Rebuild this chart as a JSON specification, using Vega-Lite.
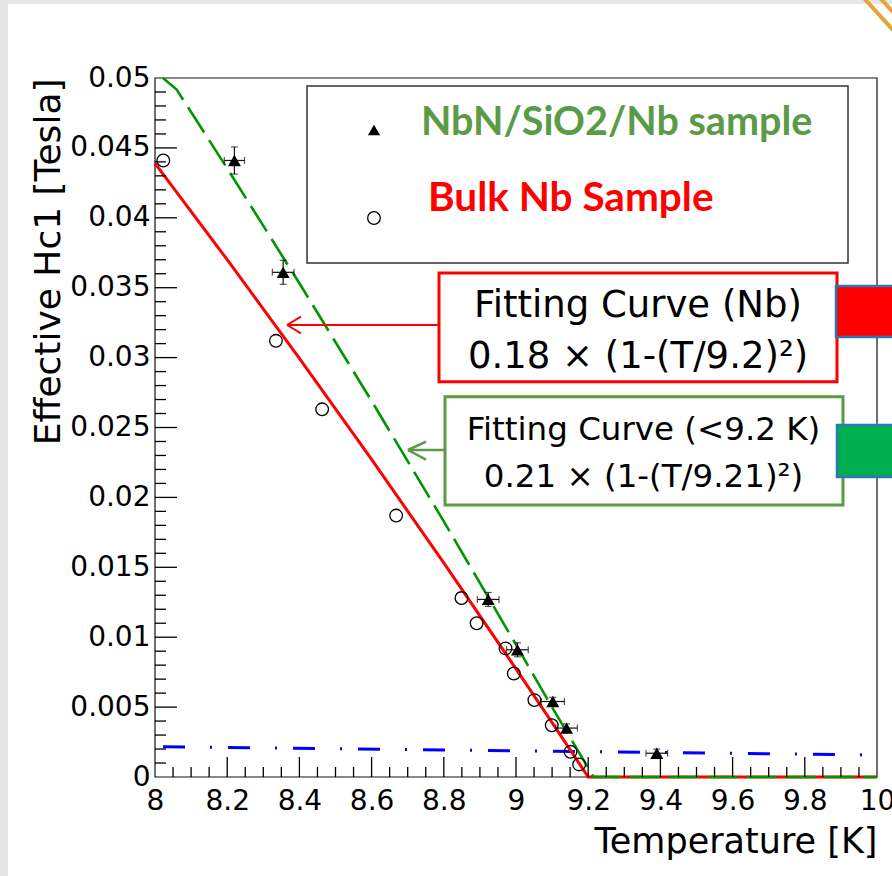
{
  "$schema": "https://vega.github.io/schema/vega-lite/v6.json",
  "width": 722,
  "height": 699,
  "autosize": {"type": "none"},
  "padding": {"left": 155, "top": 78, "right": 15, "bottom": 99},
  "background": "#e6e6e6",
  "config": {"view": {"stroke": null}, "axis": {"grid": false}},
  "resolve": {"axis": {"x": "independent", "y": "independent"}},
  "datasets": {
    "nbn": [
      {"T": 8.22, "V": 0.0441, "Tlo": 8.192, "Thi": 8.248, "Vlo": 0.04313, "Vhi": 0.04507},
      {"T": 8.355, "V": 0.0361, "Tlo": 8.325, "Thi": 8.385, "Vlo": 0.03524, "Vhi": 0.03696},
      {"T": 8.923, "V": 0.0127, "Tlo": 8.893, "Thi": 8.953, "Vlo": 0.0122, "Vhi": 0.0132},
      {"T": 9.004, "V": 0.0091, "Tlo": 8.974, "Thi": 9.034, "Vlo": 0.0086, "Vhi": 0.0096},
      {"T": 9.102, "V": 0.0054, "Tlo": 9.07, "Thi": 9.134, "Vlo": 0.0051, "Vhi": 0.0057},
      {"T": 9.14, "V": 0.0035, "Tlo": 9.11, "Thi": 9.17, "Vlo": 0.0032, "Vhi": 0.0038},
      {"T": 9.39, "V": 0.0017, "Tlo": 9.36, "Thi": 9.42, "Vlo": 0.0014, "Vhi": 0.002}
    ],
    "bulk": [
      {"T": 8.023, "V": 0.0441},
      {"T": 8.335, "V": 0.0312},
      {"T": 8.463, "V": 0.0263},
      {"T": 8.668, "V": 0.0187},
      {"T": 8.849, "V": 0.0128},
      {"T": 8.891, "V": 0.011},
      {"T": 8.971, "V": 0.0092},
      {"T": 8.994, "V": 0.0074},
      {"T": 9.051, "V": 0.0055},
      {"T": 9.099, "V": 0.0037},
      {"T": 9.151, "V": 0.0018},
      {"T": 9.175, "V": 0.0009}
    ],
    "fitRed": [
      {"T": 8.0, "V": 0.043894},
      {"T": 8.2, "V": 0.037004},
      {"T": 8.4, "V": 0.029943},
      {"T": 8.6, "V": 0.022713},
      {"T": 8.8, "V": 0.015312},
      {"T": 9.0, "V": 0.007741},
      {"T": 9.1, "V": 0.003892},
      {"T": 9.2, "V": 0},
      {"T": 10, "V": 0}
    ],
    "fitGreen": [
      {"T": 8.022, "V": 0.05},
      {"T": 8.06, "V": 0.04917},
      {"T": 8.2, "V": 0.043533},
      {"T": 8.4, "V": 0.035314},
      {"T": 8.6, "V": 0.026896},
      {"T": 8.8, "V": 0.018281},
      {"T": 9.0, "V": 0.009467},
      {"T": 9.1, "V": 0.004986},
      {"T": 9.215, "V": 0},
      {"T": 10, "V": 0}
    ],
    "fitBlue": [
      {"T": 8.0, "V": 0.00217},
      {"T": 10, "V": 0.00157}
    ],
    "xTicks": [
      {"T": 8.2, "V": 0, "V2": 0.00143}, {"T": 8.4, "V": 0, "V2": 0.00143}, {"T": 8.6, "V": 0, "V2": 0.00143}, {"T": 8.8, "V": 0, "V2": 0.00143}, {"T": 9, "V": 0, "V2": 0.00143}, {"T": 9.2, "V": 0, "V2": 0.00143}, {"T": 9.4, "V": 0, "V2": 0.00143}, {"T": 9.6, "V": 0, "V2": 0.00143}, {"T": 9.8, "V": 0, "V2": 0.00143},
      {"T": 8.05, "V": 0, "V2": 0.000715}, {"T": 8.1, "V": 0, "V2": 0.000715}, {"T": 8.15, "V": 0, "V2": 0.000715}, {"T": 8.25, "V": 0, "V2": 0.000715}, {"T": 8.3, "V": 0, "V2": 0.000715}, {"T": 8.35, "V": 0, "V2": 0.000715}, {"T": 8.45, "V": 0, "V2": 0.000715}, {"T": 8.5, "V": 0, "V2": 0.000715}, {"T": 8.55, "V": 0, "V2": 0.000715}, {"T": 8.65, "V": 0, "V2": 0.000715}, {"T": 8.7, "V": 0, "V2": 0.000715}, {"T": 8.75, "V": 0, "V2": 0.000715}, {"T": 8.85, "V": 0, "V2": 0.000715}, {"T": 8.9, "V": 0, "V2": 0.000715}, {"T": 8.95, "V": 0, "V2": 0.000715}, {"T": 9.05, "V": 0, "V2": 0.000715}, {"T": 9.1, "V": 0, "V2": 0.000715}, {"T": 9.15, "V": 0, "V2": 0.000715}, {"T": 9.25, "V": 0, "V2": 0.000715}, {"T": 9.3, "V": 0, "V2": 0.000715}, {"T": 9.35, "V": 0, "V2": 0.000715}, {"T": 9.45, "V": 0, "V2": 0.000715}, {"T": 9.5, "V": 0, "V2": 0.000715}, {"T": 9.55, "V": 0, "V2": 0.000715}, {"T": 9.65, "V": 0, "V2": 0.000715}, {"T": 9.7, "V": 0, "V2": 0.000715}, {"T": 9.75, "V": 0, "V2": 0.000715}, {"T": 9.85, "V": 0, "V2": 0.000715}, {"T": 9.9, "V": 0, "V2": 0.000715}, {"T": 9.95, "V": 0, "V2": 0.000715}
    ],
    "yTicks": [
      {"T": 8, "T2": 8.0609, "V": 0.005}, {"T": 8, "T2": 8.0609, "V": 0.01}, {"T": 8, "T2": 8.0609, "V": 0.015}, {"T": 8, "T2": 8.0609, "V": 0.02}, {"T": 8, "T2": 8.0609, "V": 0.025}, {"T": 8, "T2": 8.0609, "V": 0.03}, {"T": 8, "T2": 8.0609, "V": 0.035}, {"T": 8, "T2": 8.0609, "V": 0.04}, {"T": 8, "T2": 8.0609, "V": 0.045},
      {"T": 8, "T2": 8.0305, "V": 0.001}, {"T": 8, "T2": 8.0305, "V": 0.002}, {"T": 8, "T2": 8.0305, "V": 0.003}, {"T": 8, "T2": 8.0305, "V": 0.004}, {"T": 8, "T2": 8.0305, "V": 0.006}, {"T": 8, "T2": 8.0305, "V": 0.007}, {"T": 8, "T2": 8.0305, "V": 0.008}, {"T": 8, "T2": 8.0305, "V": 0.009}, {"T": 8, "T2": 8.0305, "V": 0.011}, {"T": 8, "T2": 8.0305, "V": 0.012}, {"T": 8, "T2": 8.0305, "V": 0.013}, {"T": 8, "T2": 8.0305, "V": 0.014}, {"T": 8, "T2": 8.0305, "V": 0.016}, {"T": 8, "T2": 8.0305, "V": 0.017}, {"T": 8, "T2": 8.0305, "V": 0.018}, {"T": 8, "T2": 8.0305, "V": 0.019}, {"T": 8, "T2": 8.0305, "V": 0.021}, {"T": 8, "T2": 8.0305, "V": 0.022}, {"T": 8, "T2": 8.0305, "V": 0.023}, {"T": 8, "T2": 8.0305, "V": 0.024}, {"T": 8, "T2": 8.0305, "V": 0.026}, {"T": 8, "T2": 8.0305, "V": 0.027}, {"T": 8, "T2": 8.0305, "V": 0.028}, {"T": 8, "T2": 8.0305, "V": 0.029}, {"T": 8, "T2": 8.0305, "V": 0.031}, {"T": 8, "T2": 8.0305, "V": 0.032}, {"T": 8, "T2": 8.0305, "V": 0.033}, {"T": 8, "T2": 8.0305, "V": 0.034}, {"T": 8, "T2": 8.0305, "V": 0.036}, {"T": 8, "T2": 8.0305, "V": 0.037}, {"T": 8, "T2": 8.0305, "V": 0.038}, {"T": 8, "T2": 8.0305, "V": 0.039}, {"T": 8, "T2": 8.0305, "V": 0.041}, {"T": 8, "T2": 8.0305, "V": 0.042}, {"T": 8, "T2": 8.0305, "V": 0.043}, {"T": 8, "T2": 8.0305, "V": 0.044}, {"T": 8, "T2": 8.0305, "V": 0.046}, {"T": 8, "T2": 8.0305, "V": 0.047}, {"T": 8, "T2": 8.0305, "V": 0.048}, {"T": 8, "T2": 8.0305, "V": 0.049}
    ]
  },
  "encoding": {
    "x": {"field": "T", "type": "quantitative", "scale": {"domain": [8, 10], "nice": false, "zero": false}, "axis": null},
    "y": {"field": "V", "type": "quantitative", "scale": {"domain": [0, 0.05], "nice": false, "zero": false}, "axis": null}
  },
  "layer": [
    {
      "data": {"values": [{"T": 7.5928, "T2": 10.3, "V": -0.02, "V2": 0.05529}]},
      "mark": {"type": "rect", "fill": "white"},
      "encoding": {"x2": {"field": "T2"}, "y2": {"field": "V2"}}
    },
    {
      "data": {"values": [
        {"g": "a", "T": 9.961, "V": 0.0558},
        {"g": "a", "T": 10.045, "V": 0.0534},
        {"g": "b", "T": 10.006, "V": 0.0558},
        {"g": "b", "T": 10.045, "V": 0.0547}
      ]},
      "mark": {"type": "line", "color": "#e8a23e", "strokeWidth": 4},
      "encoding": {"detail": {"field": "g"}}
    },
    {
      "data": {"values": [{"T": 8, "T2": 10, "V": 0, "V2": 0.05}]},
      "mark": {"type": "rect", "filled": false, "fillOpacity": 0, "stroke": "#111111", "strokeWidth": 1.2},
      "encoding": {"x2": {"field": "T2"}, "y2": {"field": "V2"}}
    },
    {
      "data": {"name": "fitBlue"},
      "mark": {"type": "line", "color": "#0000ff", "strokeWidth": 3, "strokeDash": [22, 25, 2, 16], "strokeDashOffset": 57}
    },
    {
      "data": {"name": "fitRed"},
      "mark": {"type": "line", "color": "#ff0000", "strokeWidth": 3}
    },
    {
      "data": {"name": "fitGreen"},
      "mark": {"type": "line", "color": "#009600", "strokeWidth": 2.6, "strokeDash": [30, 9]}
    },
    {
      "data": {"name": "xTicks"},
      "mark": {"type": "rule", "color": "#000000", "strokeWidth": 1.3},
      "encoding": {
        "y": {"field": "V", "type": "quantitative", "scale": {"domain": [0, 0.05], "nice": false, "zero": false}, "axis": null},
        "y2": {"field": "V2"}
      }
    },
    {
      "data": {"name": "yTicks"},
      "mark": {"type": "rule", "color": "#000000", "strokeWidth": 1.3},
      "encoding": {
        "x": {"field": "T", "type": "quantitative", "scale": {"domain": [8, 10], "nice": false, "zero": false}, "axis": null},
        "x2": {"field": "T2"}
      }
    },
    {
      "data": {"name": "nbn"},
      "mark": {"type": "rule", "color": "#111111", "strokeWidth": 1.2},
      "encoding": {
        "y": {"field": "Vlo", "type": "quantitative", "scale": {"domain": [0, 0.05], "nice": false, "zero": false}, "axis": null},
        "y2": {"field": "Vhi"}
      }
    },
    {
      "data": {"name": "nbn"},
      "mark": {"type": "rule", "color": "#111111", "strokeWidth": 1.2},
      "encoding": {
        "x": {"field": "Tlo", "type": "quantitative", "scale": {"domain": [8, 10], "nice": false, "zero": false}, "axis": null},
        "x2": {"field": "Thi"}
      }
    },
    {
      "data": {"name": "nbn"},
      "mark": {"type": "point", "shape": "stroke", "filled": false, "stroke": "#111111", "strokeWidth": 1.2, "size": 49},
      "encoding": {
        "y": {"field": "Vlo", "type": "quantitative", "scale": {"domain": [0, 0.05], "nice": false, "zero": false}, "axis": null}
      }
    },
    {
      "data": {"name": "nbn"},
      "mark": {"type": "point", "shape": "stroke", "filled": false, "stroke": "#111111", "strokeWidth": 1.2, "size": 49},
      "encoding": {
        "y": {"field": "Vhi", "type": "quantitative", "scale": {"domain": [0, 0.05], "nice": false, "zero": false}, "axis": null}
      }
    },
    {
      "data": {"name": "nbn"},
      "mark": {"type": "point", "shape": "stroke", "angle": 90, "filled": false, "stroke": "#111111", "strokeWidth": 1.2, "size": 49},
      "encoding": {
        "x": {"field": "Tlo", "type": "quantitative", "scale": {"domain": [8, 10], "nice": false, "zero": false}, "axis": null}
      }
    },
    {
      "data": {"name": "nbn"},
      "mark": {"type": "point", "shape": "stroke", "angle": 90, "filled": false, "stroke": "#111111", "strokeWidth": 1.2, "size": 49},
      "encoding": {
        "x": {"field": "Thi", "type": "quantitative", "scale": {"domain": [8, 10], "nice": false, "zero": false}, "axis": null}
      }
    },
    {
      "data": {"name": "bulk"},
      "mark": {"type": "point", "shape": "circle", "filled": false, "stroke": "#000000", "strokeWidth": 1.3, "size": 160, "opacity": 1}
    },
    {
      "data": {"name": "nbn"},
      "mark": {"type": "point", "shape": "triangle-up", "filled": true, "fill": "#000000", "size": 170, "opacity": 1}
    },
    {
      "data": {"values": [{"T": 8.4211, "T2": 9.9197, "V": 0.036767, "V2": 0.049428}]},
      "mark": {"type": "rect", "fill": "white", "stroke": "#333333", "strokeWidth": 1.5},
      "encoding": {"x2": {"field": "T2"}, "y2": {"field": "V2"}}
    },
    {
      "data": {"values": [{"T": 8.6066, "V": 0.04628}]},
      "mark": {"type": "point", "shape": "triangle-up", "filled": true, "fill": "#000000", "size": 150, "opacity": 1}
    },
    {
      "data": {"values": [{"T": 8.6066, "V": 0.039986}]},
      "mark": {"type": "point", "shape": "circle", "filled": false, "stroke": "#000000", "strokeWidth": 1.3, "size": 160, "opacity": 1}
    },
    {
      "data": {"values": [{"T": 8.7368, "V": 0.045923, "label": "NbN/SiO2/Nb sample"}]},
      "mark": {"type": "text", "align": "left", "baseline": "alphabetic", "font": "Lato", "fontWeight": "bold", "fontSize": 39.5, "color": "#5b9b47"},
      "encoding": {"text": {"field": "label"}}
    },
    {
      "data": {"values": [{"T": 8.7562, "V": 0.040487, "label": "Bulk Nb Sample"}]},
      "mark": {"type": "text", "align": "left", "baseline": "alphabetic", "font": "Lato", "fontWeight": "bold", "fontSize": 40.5, "color": "#ff0000"},
      "encoding": {"text": {"field": "label"}}
    },
    {
      "data": {"values": [{"T": 8.7867, "T2": 9.8892, "V": 0.028276, "V2": 0.036052}]},
      "mark": {"type": "rect", "fill": "white", "stroke": "#ff0000", "strokeWidth": 3},
      "encoding": {"x2": {"field": "T2"}, "y2": {"field": "V2"}}
    },
    {
      "data": {"values": [{"T": 8.8033, "T2": 9.9058, "V": 0.019456, "V2": 0.027203}]},
      "mark": {"type": "rect", "fill": "white", "stroke": "#5b9b47", "strokeWidth": 3},
      "encoding": {"x2": {"field": "T2"}, "y2": {"field": "V2"}}
    },
    {
      "data": {"values": [{"T": 9.8864, "T2": 10.1, "V": 0.031474, "V2": 0.035122}]},
      "mark": {"type": "rect", "fill": "#ff0000", "stroke": "#2e75b6", "strokeWidth": 2.5},
      "encoding": {"x2": {"field": "T2"}, "y2": {"field": "V2"}}
    },
    {
      "data": {"values": [{"T": 9.8892, "T2": 10.1, "V": 0.021459, "V2": 0.025179}]},
      "mark": {"type": "rect", "fill": "#00b050", "stroke": "#2e75b6", "strokeWidth": 2.5},
      "encoding": {"x2": {"field": "T2"}, "y2": {"field": "V2"}}
    },
    {
      "data": {"values": [
        {"g": "shaft", "T": 8.7867, "V": 0.032332},
        {"g": "shaft", "T": 8.3657, "V": 0.032332},
        {"g": "arm1", "T": 8.3657, "V": 0.032332},
        {"g": "arm1", "T": 8.4044, "V": 0.032932},
        {"g": "arm2", "T": 8.3657, "V": 0.032332},
        {"g": "arm2", "T": 8.4044, "V": 0.031732}
      ]},
      "mark": {"type": "line", "color": "#ff0000", "strokeWidth": 2},
      "encoding": {"detail": {"field": "g"}}
    },
    {
      "data": {"values": [
        {"g": "shaft", "T": 8.8033, "V": 0.023391},
        {"g": "shaft", "T": 8.7008, "V": 0.023391},
        {"g": "arm1", "T": 8.7008, "V": 0.023391},
        {"g": "arm1", "T": 8.7507, "V": 0.023985},
        {"g": "arm2", "T": 8.7008, "V": 0.023391},
        {"g": "arm2", "T": 8.7507, "V": 0.022697}
      ]},
      "mark": {"type": "line", "color": "#5b9b47", "strokeWidth": 2.5},
      "encoding": {"detail": {"field": "g"}}
    },
    {
      "data": {"values": [
        {"T": 9.338, "V": 0.032926, "label": "Fitting Curve (Nb)"},
        {"T": 9.338, "V": 0.029234, "label": "0.18 × (1-(T/9.2)²)"}
      ]},
      "mark": {"type": "text", "align": "center", "baseline": "alphabetic", "font": "DejaVu Sans", "fontSize": 37, "color": "#000000"},
      "encoding": {"text": {"field": "label"}}
    },
    {
      "data": {"values": [
        {"T": 9.3532, "V": 0.024106, "label": "Fitting Curve (<9.2 K)"},
        {"T": 9.3532, "V": 0.020765, "label": "0.21 × (1-(T/9.21)²)"}
      ]},
      "mark": {"type": "text", "align": "center", "baseline": "alphabetic", "font": "DejaVu Sans", "fontSize": 32.5, "color": "#000000"},
      "encoding": {"text": {"field": "label"}}
    },
    {
      "data": {"values": [{"T": 8, "V": 0}]},
      "mark": {"type": "point", "opacity": 0},
      "encoding": {
        "x": {"field": "T", "type": "quantitative", "scale": {"domain": [8, 10], "nice": false, "zero": false},
          "axis": {"orient": "bottom", "values": [8, 8.2, 8.4, 8.6, 8.8, 9, 9.2, 9.4, 9.6, 9.8, 10], "format": "~g", "grid": false,
            "domain": false, "ticks": false,
            "labelFont": "DejaVu Sans", "labelFontSize": 28, "labelColor": "#000000", "labelPadding": 10, "labelFlush": false, "labelOverlap": false, "labelBound": false,
            "title": "Temperature [K]", "titleFont": "DejaVu Sans", "titleFontSize": 35, "titleFontWeight": "normal", "titleColor": "#000000",
            "titleX": 722, "titleY": 75, "titleAlign": "right", "titleBaseline": "alphabetic", "titleAngle": 0, "zindex": 1}},
        "y": {"field": "V", "type": "quantitative", "scale": {"domain": [0, 0.05], "nice": false, "zero": false},
          "axis": {"orient": "left", "values": [0, 0.005, 0.01, 0.015, 0.02, 0.025, 0.03, 0.035, 0.04, 0.045, 0.05], "format": "~g", "grid": false,
            "domain": false, "ticks": false,
            "labelFont": "DejaVu Sans", "labelFontSize": 28, "labelColor": "#000000", "labelPadding": 5, "labelFlush": false, "labelOverlap": false, "labelBound": false,
            "labelAlign": "right", "labelBaseline": "middle",
            "title": "Effective Hc1 [Tesla]", "titleFont": "DejaVu Sans", "titleFontSize": 36, "titleFontWeight": "normal", "titleColor": "#000000",
            "titleX": -96, "titleY": 0, "titleAngle": -90, "titleAlign": "right", "titleBaseline": "alphabetic", "zindex": 1}}
      }
    }
  ]
}
